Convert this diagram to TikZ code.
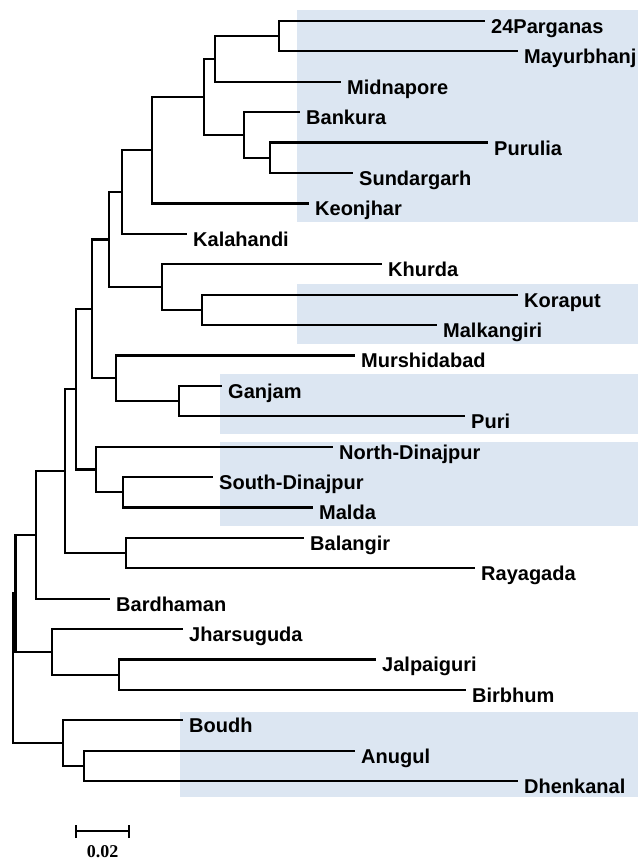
\documentclass[tikz,border=0pt]{standalone}
\usepackage{fontspec}
\setmainfont{Liberation Sans}
\newfontfamily\scalefont{Liberation Serif}
\definecolor{bandblue}{RGB}{220,230,242}
\tikzset{
  branch/.style={line width=2.2pt, black},
  leaf/.style={anchor=west, inner xsep=6pt, inner ysep=0pt, text height=25pt, text depth=0pt, font=\fontsize{20}{21}\selectfont\bfseries},
  band/.style={fill=bandblue, draw=none}
}
\begin{document}
\begin{tikzpicture}[x=1pt, y=-1pt]
\useasboundingbox (0,0) rectangle (638,861);
% bands
\fill[band] (297,10) rectangle (638,222);
\fill[band] (297,284) rectangle (638,344);
\fill[band] (220,374) rectangle (638,434);
\fill[band] (220,442) rectangle (638,526);
\fill[band] (180,712) rectangle (638,797);
% leaves
\node[leaf] (l0) at (485,21) {24Parganas};
\node[leaf] (l1) at (518,51.4) {Mayurbhanj};
\node[leaf] (l2) at (341,81.8) {Midnapore};
\node[leaf] (l3) at (300,112.2) {Bankura};
\node[leaf] (l4) at (488,142.6) {Purulia};
\node[leaf] (l5) at (353,173) {Sundargarh};
\node[leaf] (l6) at (309,203.4) {Keonjhar};
\node[leaf] (l7) at (187,233.8) {Kalahandi};
\node[leaf] (l8) at (382,264.2) {Khurda};
\node[leaf] (l9) at (518,294.6) {Koraput};
\node[leaf] (l10) at (437,325) {Malkangiri};
\node[leaf] (l11) at (355,355.4) {Murshidabad};
\node[leaf] (l12) at (222,385.8) {Ganjam};
\node[leaf] (l13) at (465,416.2) {Puri};
\node[leaf] (l14) at (333,446.6) {North-Dinajpur};
\node[leaf] (l15) at (213,477) {South-Dinajpur};
\node[leaf] (l16) at (313,507.4) {Malda};
\node[leaf] (l17) at (304,537.8) {Balangir};
\node[leaf] (l18) at (475,568.2) {Rayagada};
\node[leaf] (l19) at (110,598.6) {Bardhaman};
\node[leaf] (l20) at (183,629) {Jharsuguda};
\node[leaf] (l21) at (376,659.4) {Jalpaiguri};
\node[leaf] (l22) at (466,689.8) {Birbhum};
\node[leaf] (l23) at (183,720.2) {Boudh};
\node[leaf] (l24) at (355,750.6) {Anugul};
\node[leaf] (l25) at (518,781) {Dhenkanal};
% internal nodes
\coordinate (nA) at (279,36.2);
\coordinate (nB) at (215,59);
\coordinate (nD) at (270,157.8);
\coordinate (nC) at (244,135);
\coordinate (nE) at (204,97);
\coordinate (nF) at (152,150.2);
\coordinate (nG) at (122,192);
\coordinate (nL) at (202,309.8);
\coordinate (nK) at (162,287);
\coordinate (nH) at (109,239.5);
\coordinate (nN) at (179,401);
\coordinate (nM) at (116,378.2);
\coordinate (nI) at (92,308.85);
\coordinate (nP) at (123,492.2);
\coordinate (nO) at (96,469.4);
\coordinate (nJ) at (76,389.1);
\coordinate (nR) at (126,553);
\coordinate (nQ) at (65,471.05);
\coordinate (nS) at (36,534.8);
\coordinate (nV) at (119,674.6);
\coordinate (nT) at (52,651.8);
\coordinate (nU) at (15.5,593.3);
\coordinate (nX) at (84,765.8);
\coordinate (nW) at (63,743);
\coordinate (root) at (13,668);
% branches
\begin{scope}[branch]
\draw (nA) |- (l0.west); \draw (nA) |- (l1.west);
\draw (nB) |- (nA); \draw (nB) |- (l2.west);
\draw (nD) |- (l4.west); \draw (nD) |- (l5.west);
\draw (nC) |- (l3.west); \draw (nC) |- (nD);
\draw (nE) |- (nB); \draw (nE) |- (nC);
\draw (nF) |- (nE); \draw (nF) |- (l6.west);
\draw (nG) |- (nF); \draw (nG) |- (l7.west);
\draw (nL) |- (l9.west); \draw (nL) |- (l10.west);
\draw (nK) |- (l8.west); \draw (nK) |- (nL);
\draw (nH) |- (nG); \draw (nH) |- (nK);
\draw (nN) |- (l12.west); \draw (nN) |- (l13.west);
\draw (nM) |- (l11.west); \draw (nM) |- (nN);
\draw (nI) |- (nH); \draw (nI) |- (nM);
\draw (nP) |- (l15.west); \draw (nP) |- (l16.west);
\draw (nO) |- (l14.west); \draw (nO) |- (nP);
\draw (nJ) |- (nI); \draw (nJ) |- (nO);
\draw (nR) |- (l17.west); \draw (nR) |- (l18.west);
\draw (nQ) |- (nJ); \draw (nQ) |- (nR);
\draw (nS) |- (nQ); \draw (nS) |- (l19.west);
\draw (nV) |- (l21.west); \draw (nV) |- (l22.west);
\draw (nT) |- (l20.west); \draw (nT) |- (nV);
\draw (nU) |- (nS); \draw (nU) |- (nT);
\draw (nX) |- (l24.west); \draw (nX) |- (l25.west);
\draw (nW) |- (l23.west); \draw (nW) |- (nX);
\draw (root) |- (nU); \draw (root) |- (nW);
% scale bar
\coordinate (sbL) at (76,831);
\coordinate (sbR) at (129,831);
\draw (sbL) -- (sbR);
\draw ([yshift=-7pt]sbL) -- ([yshift=6pt]sbL);
\draw ([yshift=-7pt]sbR) -- ([yshift=6pt]sbR);
\end{scope}
\node[font=\fontsize{18}{19}\selectfont\scalefont\bfseries, anchor=base, inner sep=0pt] (sblabel) at (102.5,857) {0.02};
\end{tikzpicture}
\end{document}
